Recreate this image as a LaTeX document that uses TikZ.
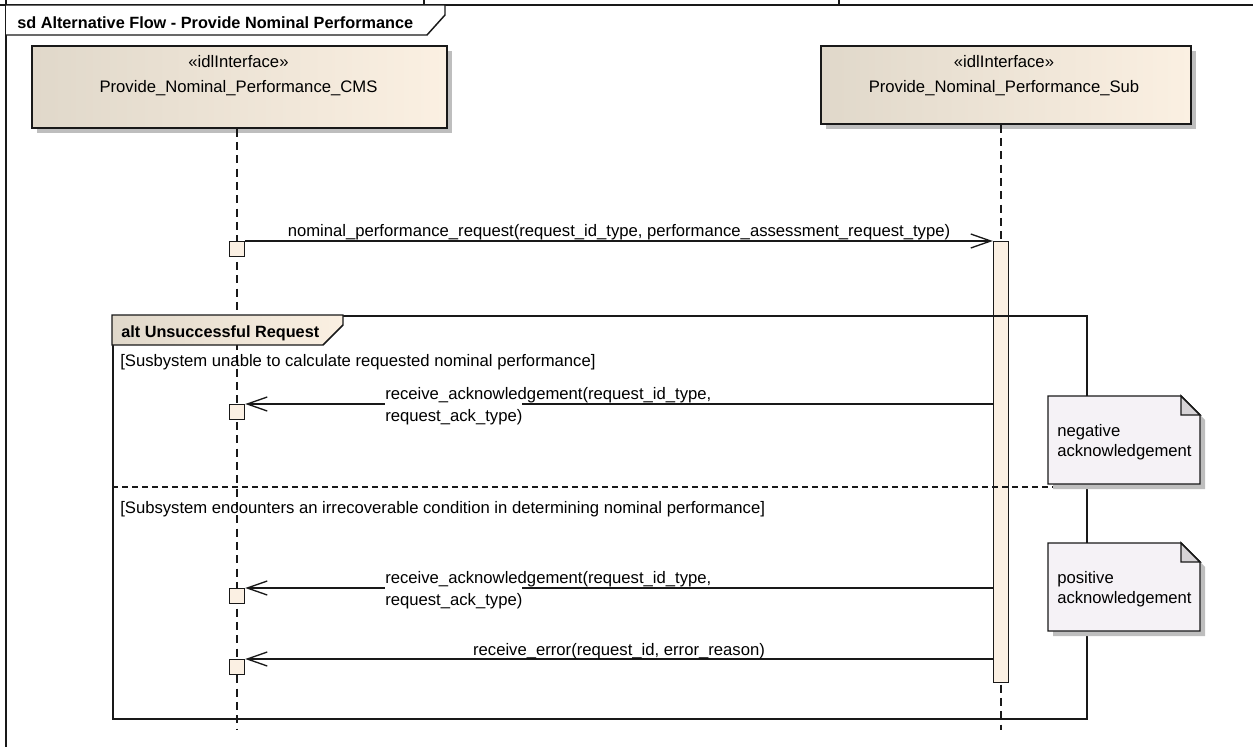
\documentclass[tikz,border=0pt]{standalone}
\usepackage{fontspec}
\setmainfont{Liberation Sans}
\usetikzlibrary{arrows.meta,calc,shadows}
\definecolor{boxL}{RGB}{224,216,202}
\definecolor{boxR}{RGB}{251,240,226}
\definecolor{actfill}{RGB}{251,240,227}
\definecolor{notefill}{RGB}{245,242,246}
\definecolor{foldfill}{RGB}{214,211,214}
\definecolor{shadowc}{RGB}{190,190,190}
\definecolor{linec}{RGB}{25,25,25}
\tikzset{
  txt/.style={inner sep=0pt, text=black},
  btxt/.style={inner sep=0pt, text=black, font=\fontsize{12.2}{14}\selectfont\bfseries},
  lifebox/.style={draw=linec, line width=1.2pt, left color=boxL, right color=boxR, inner sep=0pt,
     drop shadow={shadow xshift=4pt, shadow yshift=-4pt, fill=shadowc, opacity=1}},
  lifeline/.style={draw=linec, line width=1pt, dash pattern=on 6pt off 4pt},
  actbox/.style={draw=linec, line width=1.1pt, fill=actfill, inner sep=0pt, minimum width=11.25pt},
  execbox/.style={draw=linec, line width=1.1pt, fill=actfill, inner sep=0pt, minimum width=11.25pt, minimum height=11pt},
  msg/.style={draw=linec, line width=1pt, -{Straight Barb[length=15pt, width=10.5pt, line width=1pt]}},
  frameline/.style={draw=linec, line width=1.1pt},
  sepline/.style={draw=linec, line width=0.9pt, dash pattern=on 4.5pt off 3pt},
}
\begin{document}
\begin{tikzpicture}[x=0.75pt, y=-0.75pt, font=\fontsize{12.5}{15}\selectfont]
\useasboundingbox (0,0) rectangle (1253,747);
% outer frame
\draw[frameline] (6,0) -- (6,747);
\draw[frameline] (0,5) -- (1253,5);
\draw[frameline] (424,0) -- (424,5);
\draw[frameline] (839,0) -- (839,5);
\draw[frameline, fill=white] (6,5) -- (445,5) -- (445,15) -- (427,35) -- (6,35);
\node[btxt, anchor=base west] (title) at (17,28) {sd Alternative Flow - Provide Nominal Performance};
% lifeline heads
\node[lifebox, minimum width=311.25pt, minimum height=61.5pt, anchor=north west] (cms) at (31,45) {};
\node[lifebox, minimum width=277.5pt, minimum height=58.5pt, anchor=north west] (sub) at (820,45) {};
\node[txt, anchor=base] (cmsst) at (238.5,67) {«idlInterface»};
\node[txt, anchor=base] (cmsnm) at (238.5,92) {Provide\_Nominal\_Performance\_CMS};
\node[txt, anchor=base] (subst) at (1004,67) {«idlInterface»};
\node[txt, anchor=base] (subnm) at (1004,92) {Provide\_Nominal\_Performance\_Sub};
% lifelines
\coordinate (cmsbot) at (237,730);
\coordinate (subbot) at (1001,730);
\draw[lifeline] (cms.south -| cmsbot) -- (cmsbot);
\draw[lifeline] (sub.south -| subbot) -- (subbot);
% activation bar
\node[actbox, minimum height=330.75pt, anchor=north] (act) at (1001,241) {};
% alt fragment
\node[draw=linec, line width=1.2pt, minimum width=730.5pt, minimum height=302.25pt, inner sep=0pt, anchor=north west] (alt) at (112,315) {};
\path[draw=linec, line width=1.1pt, left color=boxL, right color=boxR]
  (alt.north west) -- ++(231,0) -- ++(0,10) -- ++(-20,20) -- ($(alt.north west)+(0,30)$) -- cycle;
\node[btxt, anchor=base west] (alttitle) at (121,337) {alt Unsuccessful Request};
\node[txt, anchor=base west] (g1) at (120,366) {[Susbystem unable to calculate requested nominal performance]};
\coordinate (sepend) at (1078,487);
\draw[sepline] (alt.west |- sepend) -- (sepend);
\node[txt, anchor=base west] (g2) at (120,513) {[Subsystem encounters an irrecoverable condition in determining nominal performance]};
% execution squares
\node[execbox, anchor=north] (e1) at (237,241) {};
\node[execbox, anchor=north] (e2) at (237,404) {};
\node[execbox, anchor=north] (e3) at (237,588) {};
\node[execbox, anchor=north] (e4) at (237,659) {};
% messages
\draw[msg] (e1.north east) -- (e1.north east -| act.west);
\node[txt, anchor=base] (l1) at (619,236) {nominal\_performance\_request(request\_id\_type, performance\_assessment\_request\_type)};
\draw[msg] (e2.north east -| act.west) -- (e2.north east);
\node[txt, fill=white, text height=14.5pt, anchor=base west] (l2b) at (385,421) {request\_ack\_type)};
\node[txt, anchor=base west] (l2a) at (385,399) {receive\_acknowledgement(request\_id\_type,};
\draw[msg] (e3.north east -| act.west) -- (e3.north east);
\node[txt, fill=white, text height=14.5pt, anchor=base west] (l3b) at (385,605) {request\_ack\_type)};
\node[txt, anchor=base west] (l3a) at (385,583) {receive\_acknowledgement(request\_id\_type,};
\draw[msg] (e4.north east -| act.west) -- (e4.north east);
\node[txt, anchor=base] (l4) at (619,655) {receive\_error(request\_id, error\_reason)};
% notes
\foreach \nm/\ya/\yb in {n1/396/484, n2/543/631} {
  \coordinate (\nm a) at (1048,\ya);
  \coordinate (\nm b) at (1200,\yb);
  \fill[shadowc] ($(\nm a)+(5,5)$) -- ($(\nm a -| \nm b)+(-14,5)$) -- ($(\nm a -| \nm b)+(5,24)$) -- ($(\nm b)+(5,5)$) -- ($(\nm a |- \nm b)+(5,5)$) -- cycle;
  \draw[draw=linec, line width=1.1pt, fill=notefill] (\nm a) -- ($(\nm a -| \nm b)+(-19,0)$) -- ($(\nm a -| \nm b)+(0,19)$) -- (\nm b) -- (\nm a |- \nm b) -- cycle;
  \draw[draw=linec, line width=1.1pt, fill=foldfill] ($(\nm a -| \nm b)+(-19,0)$) -- ($(\nm a -| \nm b)+(-19,19)$) -- ($(\nm a -| \nm b)+(0,19)$) -- cycle;
}
\node[txt, anchor=base west] (n1t1) at (1057,436) {negative};
\node[txt, anchor=base west] (n1t2) at (1057,456) {acknowledgement};
\node[txt, anchor=base west] (n2t1) at (1057,583) {positive};
\node[txt, anchor=base west] (n2t2) at (1057,603) {acknowledgement};
\end{tikzpicture}
\end{document}
